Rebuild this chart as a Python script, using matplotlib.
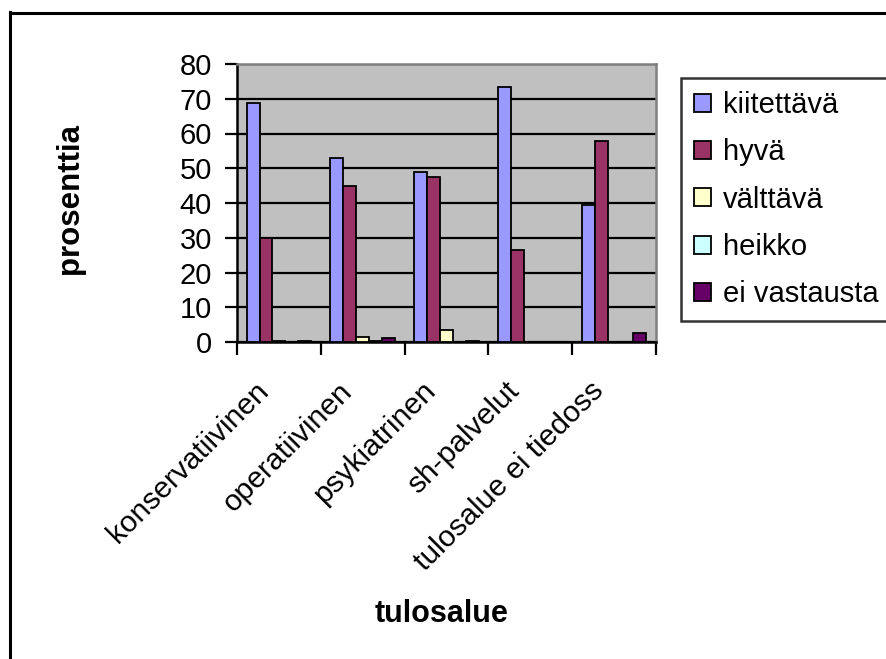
import matplotlib
matplotlib.use("Agg")
import matplotlib.pyplot as plt
from matplotlib.lines import Line2D
from matplotlib.transforms import ScaledTranslation
import numpy as np

plt.rcParams['font.family'] = ['Liberation Sans', 'DejaVu Sans']

categories = ["konservatiivinen", "operatiivinen", "psykiatrinen", "sh-palvelut", "tulosalue ei tiedoss"]
series_names = ["kiitettävä", "hyvä", "välttävä", "heikko", "ei vastausta"]
kiitettava = [68.7, 52.9, 48.9, 73.3, 39.4]
hyva = [30.0, 44.8, 47.4, 26.4, 57.7]
valttava = [0.4, 1.3, 3.4, 0.0, 0.0]
heikko = [0.0, 0.3, 0.0, 0.0, 0.0]
ei_vastausta = [0.4, 1.2, 0.3, 0.0, 2.6]
series = [kiitettava, hyva, valttava, heikko, ei_vastausta]
colors = ["#9999FF", "#993366", "#FFFFCC", "#CCFFFF", "#660066"]
yticks = [0, 10, 20, 30, 40, 50, 60, 70, 80]

fig = plt.figure(figsize=(8.87, 6.59), dpi=100)
ax = fig.add_axes([237/887, 1-342/659, (656-237)/887, (342-64)/659])
ax.set_facecolor("#C0C0C0")

x = np.arange(len(categories))
w = 1/6.5
for i, (vals, c, name) in enumerate(zip(series, colors, series_names)):
    ax.bar(x + (i-2)*w, vals, width=w, color=c, edgecolor='black', linewidth=1.3,
           label=name, zorder=3)

ax.set_xlim(-0.5, len(categories)-0.5)
ax.set_ylim(0, 80)
ax.set_yticks(yticks)
ax.yaxis.grid(True, color='black', linewidth=1.6, zorder=1)
ax.set_axisbelow(True)

ax.set_xticks(np.arange(len(categories)+1)-0.5)
ax.set_xticklabels([])
ax.set_xticks(x, minor=True)
ax.set_xticklabels(categories, minor=True, rotation=45, ha='right', va='top',
                   rotation_mode='anchor', fontsize=21.5)
ax.tick_params(axis='x', which='minor', length=0, pad=25)
ax.tick_params(axis='x', which='major', length=9, width=1.6, direction='out')
ax.tick_params(axis='y', length=9, width=1.6, direction='out', labelsize=21, pad=9)
off = ScaledTranslation(-25/100, 0, fig.dpi_scale_trans)
for lab in ax.get_xticklabels(minor=True):
    lab.set_transform(lab.get_transform() + off)

for s in ['left', 'bottom']:
    ax.spines[s].set_color('black')
    ax.spines[s].set_linewidth(1.8)
for s in ['top', 'right']:
    ax.spines[s].set_color('#808080')
    ax.spines[s].set_linewidth(1.8)

fig.text(70/887, 1-199/659, "prosenttia", fontsize=22.5, fontweight='bold',
         rotation=90, ha='center', va='center')
fig.text(442/887, 1-622/659, "tulosalue", fontsize=22, fontweight='bold',
         ha='center', va='baseline')

leg = fig.legend(loc='upper left', bbox_to_anchor=(681/887, 1-78/659),
                 fontsize=21, frameon=True, fancybox=False, edgecolor='black',
                 handlelength=0.58, handleheight=0.58, handletextpad=0.4,
                 labelspacing=0.66, borderpad=0.45, borderaxespad=0)
leg.get_frame().set_linewidth(1.8)
for h in leg.legend_handles:
    h.set_linewidth(1.3)

# figure border (left and top)
fig.add_artist(Line2D([10/887, 10/887], [0, 1-12/659], transform=fig.transFigure,
                      color='black', linewidth=2.2))
fig.add_artist(Line2D([10/887, 1], [1-13/659, 1-13/659], transform=fig.transFigure,
                      color='black', linewidth=2.2))

fig.savefig("out.png", dpi=100)
